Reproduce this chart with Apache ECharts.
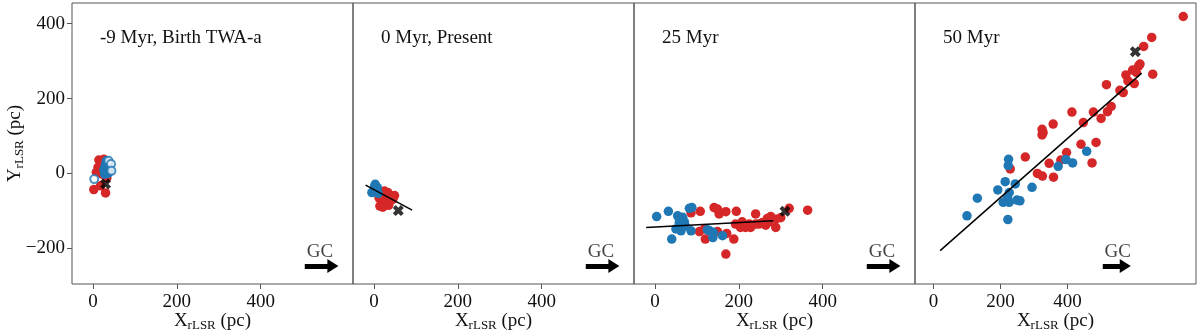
<!DOCTYPE html>
<html>
<head>
<meta charset="utf-8">
<script src="https://cdn.jsdelivr.net/npm/echarts@6/dist/echarts.min.js"></script>
<style>
  html, body {margin:0;padding:0;background:#ffffff;}
  #chart {width:1200px;height:333px;}
</style>
</head>
<body>
<div id="chart"></div>
<script>
    // panel titles
    var panelTitles = ['-9 Myr, Birth TWA-a', '0 Myr, Present', '25 Myr', '50 Myr'];

    // x ranges per panel
    var xMins = [-50, -50, -50, -55];
    var xMaxs = [620, 620, 620, 783];
    var xTicks = [0, 200, 400];
    var yTicks = [-200, 0, 200, 400];

    // red members (pc)
    var red1 = [[14,36],[12,16],[8,3],[2,-43],[30,-52],[18,-33],[30,29],[38,7],[22,-2],[24,22],[19,29],[15,3],[26,38],[20,10],[33,-12]];
    var red2 = [[25,-47],[33,-51],[41,-60],[49,-59],[30,-69],[18,-74],[14,-87],[21,-90],[37,-76],[21,-62],[45,-69],[28,-58],[12,-65],[35,-85]];
    var red3 = [[108,-101],[141,-91],[149,-95],[153,-108],[169,-102],[194,-101],[240,-108],[268,-120],[276,-115],[256,-131],[264,-138],[288,-144],[288,-122],[320,-93],[364,-98],[192,-135],[208,-129],[216,-144],[228,-144],[204,-144],[106,-155],[120,-175],[149,-155],[171,-160],[188,-175],[169,-215],[118,-148],[240,-135],[248,-135],[225,-135],[272,-129],[86,-105],[300,-118]];
    var red4 = [[229,12],[274,44],[310,0],[325,-7],[358,-10],[345,27],[380,36],[397,56],[440,78],[473,28],[485,83],[324,118],[327,109],[324,103],[357,132],[413,164],[447,136],[477,164],[500,147],[519,165],[530,179],[516,237],[556,222],[566,216],[574,263],[580,247],[594,276],[605,270],[612,287],[616,292],[599,240],[627,339],[651,363],[654,265],[745,419]];

    // blue members (pc)
    var blue1 = [[32,34],[40,7],[28,-2],[34,16],[30,24],[36,0],[26,10],[38,20]];
    var blue1Open = [[3,-15],[37,34],[43,25],[44,7]];
    var blue2 = [[6,-43],[2,-34],[-5,-51],[10,-53],[3,-29],[0,-45],[8,-38]];
    var blue3 = [[4,-115],[32,-101],[54,-113],[66,-117],[58,-131],[70,-129],[50,-148],[62,-153],[40,-175],[82,-93],[88,-91],[86,-153],[130,-153],[139,-157],[138,-171],[161,-166],[125,-150],[60,-140],[72,-140],[64,-125]];
    var blue4 = [[224,38],[223,21],[214,-22],[244,-28],[192,-44],[226,-51],[131,-66],[221,-64],[208,-77],[226,-77],[249,-71],[258,-73],[294,-37],[100,-113],[222,-123],[457,59],[395,37],[372,19],[415,28]];

    // TWA-a position
    var twaA = [[30,-28],[58,-99],[310,-101],[602,325]];

    // fitted lines
    var fits = [null, [[-20,-31],[91,-98]], [[-21,-144],[282,-126]], [[20,-206],[621,268]]];

    // GC arrow
    var gcText = [510, -209];
    var gcArrow = [[505, -247], [572, -247]];

    var reds = [red1, red2, red3, red4];
    var blues = [blue1, blue2, blue3, blue4];

    var RED = '#d62728', BLUE = '#1f77b4';
    var FONT = 'Liberation Serif';
    var crossPath = 'path://M0,2.6L2.6,0L5,2.4L7.4,0L10,2.6L7.6,5L10,7.4L7.4,10L5,7.6L2.6,10L0,7.4L2.4,5Z';

    var chart = echarts.init(document.getElementById('chart'));

    var grids = [], xAxes = [], yAxes = [], series = [], graphics = [];
    var panelLeft = 72, panelW = 281, panelTop = 3, panelH = 281;

    var richSub = {
        m: {fontFamily: FONT, fontSize: 19, color: '#111'},
        s: {fontFamily: FONT, fontSize: 13, color: '#111', verticalAlign: 'bottom', padding: [8, 0, 0, 0]}
    };

    for (var i = 0; i < 4; i++) {
        var left = panelLeft + panelW * i;
        grids.push({left: left, top: panelTop, width: panelW, height: panelH,
            containLabel: false, outerBoundsMode: 'none',
            show: true, borderColor: '#555', borderWidth: 1, backgroundColor: 'transparent'});

        xAxes.push({
            gridIndex: i, type: 'value', min: xMins[i], max: xMaxs[i], position: 'bottom',
            name: '{m|X}{s|rLSR}{m| (pc)}', nameLocation: 'middle', nameGap: 27,
            nameMoveOverlap: false,
            nameTextStyle: {rich: richSub},
            axisLine: {show: false, onZero: false},
            axisTick: {show: true, length: 5, lineStyle: {color: '#555'}, customValues: xTicks},
            axisLabel: {fontFamily: FONT, fontSize: 19, color: '#111', margin: 9, customValues: xTicks},
            splitLine: {show: false}
        });

        var ya = {
            gridIndex: i, type: 'value', min: -295, max: 455, position: 'left',
            axisLine: {show: false, onZero: false},
            splitLine: {show: false},
            axisTick: {show: i === 0, length: 5, lineStyle: {color: '#555'}, customValues: yTicks},
            axisLabel: {show: i === 0, fontFamily: FONT, fontSize: 19, color: '#111', margin: 7,
                customValues: yTicks,
                formatter: function (v) { return String(v).replace('-', '\u2212'); }}
        };
        if (i === 0) {
            ya.name = '{m|Y}{s|rLSR}{m| (pc)}';
            ya.nameLocation = 'middle';
            ya.nameGap = 46;
            ya.nameRotate = 90;
            ya.nameMoveOverlap = false;
            ya.nameTextStyle = {rich: richSub};
        }
        yAxes.push(ya);

        series.push({type: 'scatter', xAxisIndex: i, yAxisIndex: i, data: reds[i],
            symbolSize: 9.5, itemStyle: {color: RED, opacity: 1}, z: 2});
        series.push({type: 'scatter', xAxisIndex: i, yAxisIndex: i, data: blues[i],
            symbolSize: 9.5, itemStyle: {color: BLUE, opacity: 1}, z: 3});
        if (i === 0) {
            series.push({type: 'scatter', xAxisIndex: i, yAxisIndex: i, data: blue1Open,
                symbol: 'emptyCircle', symbolSize: 8, itemStyle: {color: BLUE, borderWidth: 1.2}, z: 3});
        }
        if (fits[i]) {
            series.push({type: 'line', xAxisIndex: i, yAxisIndex: i, data: fits[i],
                showSymbol: false, symbol: 'none', lineStyle: {color: '#000', width: 1.5}, z: 4});
        }
        series.push({type: 'scatter', xAxisIndex: i, yAxisIndex: i, data: [twaA[i]],
            symbol: crossPath, symbolSize: 11, itemStyle: {color: '#000'}, z: 5});

        // GC label + arrow
        series.push({type: 'scatter', xAxisIndex: i, yAxisIndex: i, data: [gcText],
            symbolSize: 0, silent: true,
            label: {show: true, formatter: 'GC', position: 'right', distance: 0,
                fontFamily: FONT, fontSize: 19, color: '#111'},
            markLine: {silent: true, symbol: ['none', 'triangle'], symbolSize: [14, 11],
                lineStyle: {color: '#000', width: 5, type: 'solid'},
                label: {show: false},
                data: [[{coord: gcArrow[0]}, {coord: gcArrow[1]}]]},
            z: 5});

        graphics.push({type: 'text', left: left + 28, top: 29,
            style: {text: panelTitles[i], font: '19px "' + FONT + '"', fill: '#111'}});
    }

    chart.setOption({
        animation: false,
        grid: grids,
        xAxis: xAxes,
        yAxis: yAxes,
        series: series,
        graphic: graphics
    });
</script>
</body>
</html>
